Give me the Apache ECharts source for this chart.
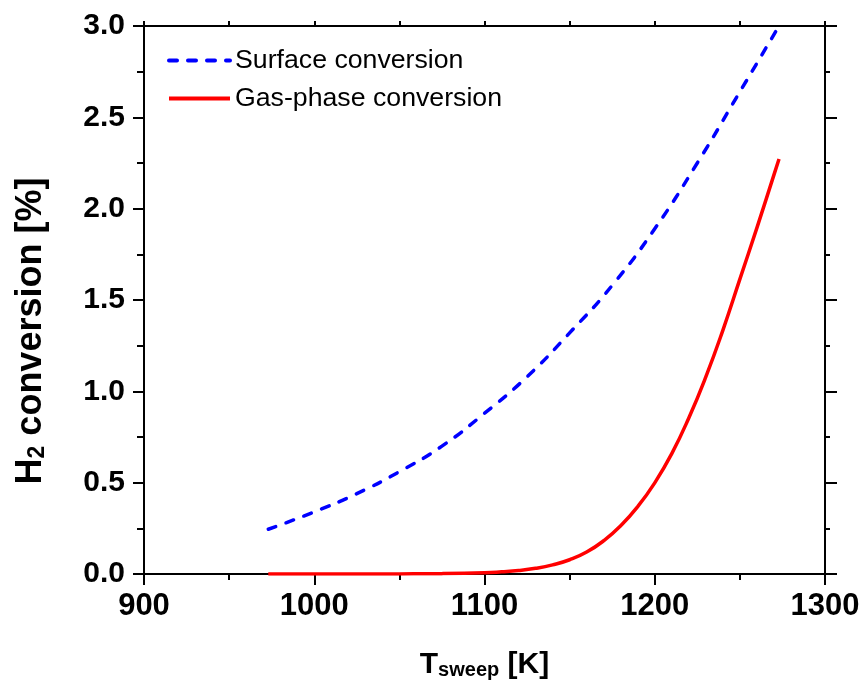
<!DOCTYPE html>
<html>
<head>
<meta charset="utf-8">
<script src="https://cdn.jsdelivr.net/npm/echarts@6/dist/echarts.min.js"></script>
<style>
  html, body { margin: 0; padding: 0; background: #fff; }
  #chart { width: 867px; height: 696px; }
</style>
</head>
<body>
<div id="chart"></div>
<script>
// Sweep temperature [K] and H2 conversion [%] for each process
const surfaceTemps = [973, 1000, 1025, 1050, 1075, 1100, 1125, 1150, 1175, 1200, 1225, 1250, 1273];
const surfaceConversion = [0.245, 0.34, 0.44, 0.56, 0.70, 0.88, 1.08, 1.32, 1.58, 1.89, 2.25, 2.64, 3.0];

const gasTemps = [973, 1000, 1025, 1050, 1075, 1100, 1110, 1120, 1130, 1140, 1150, 1160, 1170, 1180, 1190, 1200, 1210, 1220, 1230, 1240, 1250, 1260, 1270, 1273];
const gasConversion = [0, 0, 0, 0.0005, 0.002, 0.007, 0.012, 0.019, 0.031, 0.05, 0.078, 0.12, 0.182, 0.264, 0.369, 0.499, 0.659, 0.854, 1.079, 1.334, 1.614, 1.895, 2.185, 2.272];

const seriesNames = ['Surface conversion', 'Gas-phase conversion'];

const FONT = '"Liberation Sans", Arial, Helvetica, sans-serif';

function pairs(xs, ys) {
  return xs.map((x, i) => [x, ys[i]]);
}

const axisLine = { show: true, onZero: false, lineStyle: { color: '#000', width: 2 } };

function mainTick(len) {
  return { show: true, inside: false, length: len, lineStyle: { color: '#000', width: 2 } };
}
function minorTick(len) {
  return { show: true, splitNumber: 2, length: len, lineStyle: { color: '#000', width: 2 } };
}

// Axis titles with subscripts
const xTitleRich = {
  b: { fontFamily: FONT, fontSize: 30, fontWeight: 'bold', color: '#000', lineHeight: 30, verticalAlign: 'top' },
  s: { fontFamily: FONT, fontSize: 20, fontWeight: 'bold', color: '#000', lineHeight: 20, verticalAlign: 'bottom', padding: [16, 0, 0, 0] }
};
const yTitleRich = {
  b: { fontFamily: FONT, fontSize: 36, fontWeight: 'bold', color: '#000', lineHeight: 36, verticalAlign: 'top' },
  s: { fontFamily: FONT, fontSize: 23, fontWeight: 'bold', color: '#000', lineHeight: 23, verticalAlign: 'bottom', padding: [18, 0, 0, 0] }
};

const chart = echarts.init(document.getElementById('chart'), null, { renderer: 'canvas' });

chart.setOption({
  backgroundColor: '#fff',
  animation: false,
  grid: { left: 142, right: 42, top: 26, bottom: 122, containLabel: false },
  legend: {
    orient: 'vertical',
    left: 167,
    top: 47,
    padding: 0,
    itemWidth: 61,
    itemHeight: 14,
    itemGap: 11,
    data: seriesNames,
    itemStyle: { opacity: 0 },
    lineStyle: { width: 4 },
    textStyle: { fontFamily: FONT, fontSize: 26.7, color: '#000' }
  },
  xAxis: [
    {
      type: 'value', position: 'bottom', min: 900, max: 1300, interval: 100,
      axisLine: axisLine, axisTick: mainTick(11), minorTick: minorTick(6),
      splitLine: { show: false },
      axisLabel: {
        fontFamily: FONT, fontSize: 31, fontWeight: 'bold', color: '#000', margin: 17,
        formatter: v => String(v)
      },
      name: '{b|T}{s|sweep}{b| [K]}',
      nameLocation: 'middle', nameGap: 76,
      nameTextStyle: { rich: xTitleRich }
    },
    {
      type: 'value', position: 'top', min: 900, max: 1300, interval: 100,
      axisLine: axisLine, axisTick: mainTick(5), minorTick: minorTick(5),
      splitLine: { show: false }, axisLabel: { show: false }
    }
  ],
  yAxis: [
    {
      type: 'value', position: 'left', min: 0, max: 3, interval: 0.5,
      axisLine: axisLine, axisTick: mainTick(11), minorTick: minorTick(7),
      splitLine: { show: false },
      axisLabel: {
        fontFamily: FONT, fontSize: 30, fontWeight: 'bold', color: '#000', margin: 19,
        formatter: v => v.toFixed(1)
      },
      name: '{b|H}{s|2}{b| conversion [%]}',
      nameLocation: 'middle', nameGap: 95, nameRotate: 90,
      nameTextStyle: { rich: yTitleRich, padding: [0, 62, 0, 0] }
    },
    {
      type: 'value', position: 'right', min: 0, max: 3, interval: 0.5,
      axisLine: axisLine, axisTick: mainTick(12), minorTick: minorTick(5),
      splitLine: { show: false }, axisLabel: { show: false }
    }
  ],
  series: [
    {
      name: seriesNames[0], type: 'line', xAxisIndex: 0, yAxisIndex: 0,
      data: pairs(surfaceTemps, surfaceConversion),
      smooth: true, showSymbol: false, symbol: 'none',
      lineStyle: { color: '#0000ff', width: 3.5, type: [8, 11], cap: 'round' },
      itemStyle: { color: '#0000ff' }
    },
    {
      name: seriesNames[1], type: 'line', xAxisIndex: 0, yAxisIndex: 0,
      data: pairs(gasTemps, gasConversion),
      smooth: true, showSymbol: false, symbol: 'none',
      lineStyle: { color: '#ff0000', width: 3.5 },
      itemStyle: { color: '#ff0000' }
    }
  ]
});
</script>
</body>
</html>
